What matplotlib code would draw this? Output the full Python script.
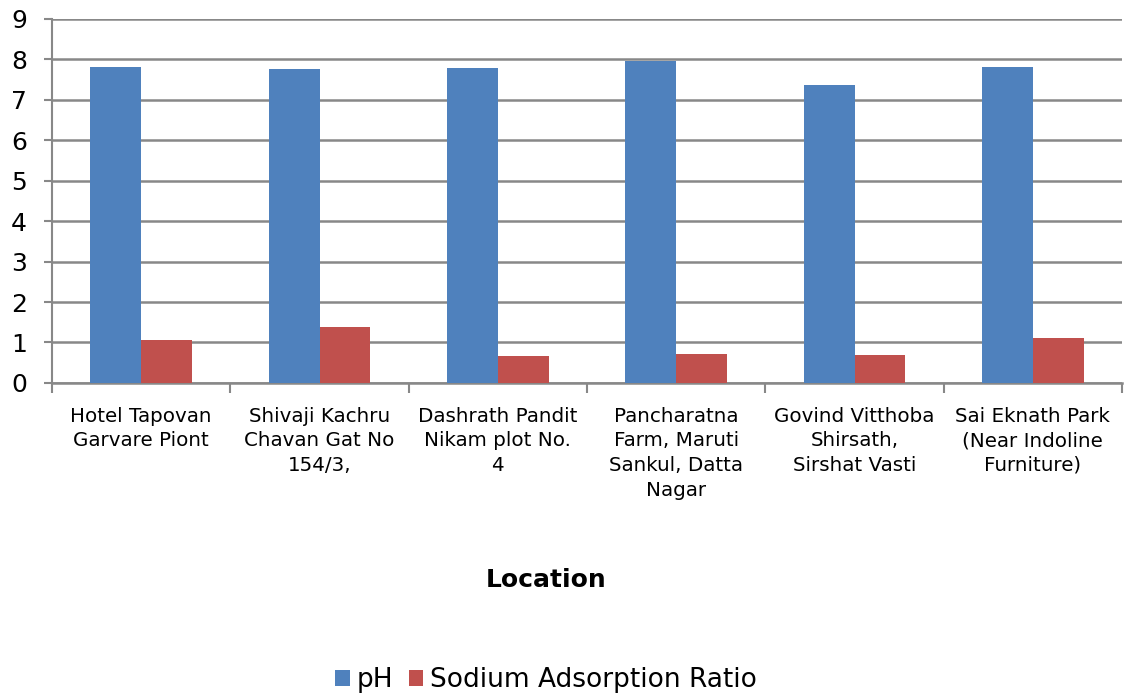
import matplotlib.pyplot as plt
import numpy as np

locations = [
    "Hotel Tapovan\nGarvare Piont",
    "Shivaji Kachru\nChavan Gat No\n154/3,",
    "Dashrath Pandit\nNikam plot No.\n4",
    "Pancharatna\nFarm, Maruti\nSankul, Datta\nNagar",
    "Govind Vitthoba\nShirsath,\nSirshat Vasti",
    "Sai Eknath Park\n(Near Indoline\nFurniture)",
]
ph = [7.81, 7.76, 7.79, 7.95, 7.37, 7.81]
sar = [1.05, 1.38, 0.67, 0.72, 0.68, 1.11]

plt.rcParams["font.family"] = ["DejaVu Sans"]

fig = plt.figure(figsize=(11.28, 7), dpi=100)
ax = fig.add_axes([0.0461, 0.453, 0.9486, 0.520])

x = np.arange(len(locations))
w = 1 / 3.5
ax.bar(x - w / 2, ph, w, color="#4F81BD", label="pH", zorder=3)
ax.bar(x + w / 2, sar, w, color="#C0504D", label="Sodium Adsorption Ratio", zorder=3)

ax.set_xlim(-0.5, len(locations) - 0.5)
ax.set_ylim(0, 9)
ax.set_yticks(range(10))
ax.tick_params(axis="y", labelsize=18, length=6, color="#888888", width=1.5, pad=12)
ax.grid(axis="y", color="#888888", linewidth=1.8, zorder=0)

ax.set_xticks(np.arange(len(locations) + 1) - 0.5)
ax.set_xticklabels([])
ax.set_xticks(x, minor=True)
ax.set_xticklabels(locations, minor=True, fontsize=14.3, linespacing=1.38)
ax.tick_params(axis="x", which="minor", length=0, pad=17)
ax.tick_params(axis="x", which="major", length=7, color="#888888", width=1.5)

for s in ["top", "right"]:
    ax.spines[s].set_visible(False)
ax.spines["left"].set_color("#888888")
ax.spines["left"].set_linewidth(1.5)
ax.spines["bottom"].set_color("#888888")
ax.spines["bottom"].set_linewidth(1.8)

fig.text(0.484, 1 - 580 / 700, "Location", ha="center", va="center",
         fontsize=18, fontweight="bold")
fig.legend(loc="center", bbox_to_anchor=(0.484, 1 - 680 / 700), ncol=2,
           frameon=False, fontsize=19, handlelength=0.55, handleheight=0.55,
           handletextpad=0.25, columnspacing=0.6)

fig.savefig("out.png", dpi=100)
